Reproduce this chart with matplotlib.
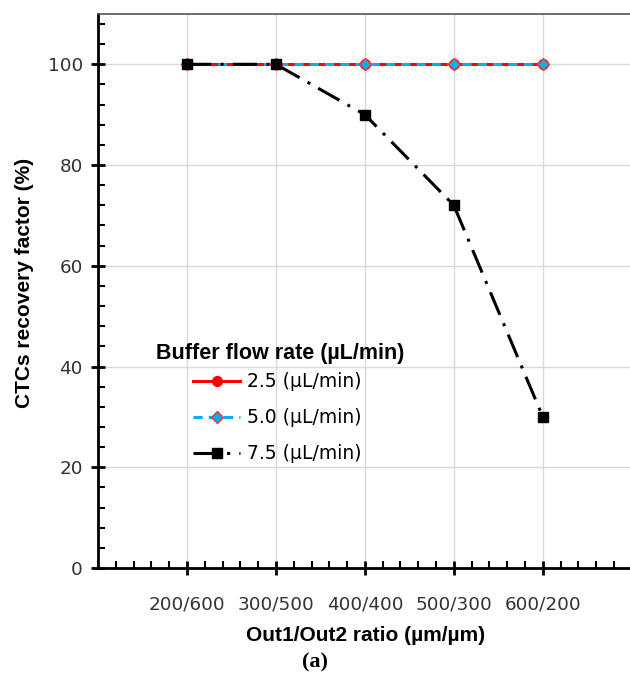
import matplotlib.pyplot as plt
from matplotlib.ticker import MultipleLocator

plt.rcParams['font.family'] = ['DejaVu Sans']

# data
ratios = ['200/600', '300/500', '400/400', '500/300', '600/200']
flow_25 = [100, 100, 100, 100, 100]
flow_50 = [100, 100, 100, 100, 100]
flow_75 = [100, 100, 90, 72, 30]
legend_labels = ['2.5 (\u00b5L/min)', '5.0 (\u00b5L/min)', '7.5 (\u00b5L/min)']

xpos = list(range(1, len(ratios) + 1))

fig = plt.figure(figsize=(6.3, 6.81), dpi=100)
ax = fig.add_axes([0.1556, 0.166, 0.85, 0.8135])

ax.plot(xpos, flow_25, color='#ff0000', lw=2.2, marker='o', ms=7,
        label=legend_labels[0], zorder=3)
ax.plot(xpos, flow_50, color='#00b0f0', lw=2.2, ls=(0, (3, 2)), marker='D', ms=6,
        mec='#ff3030', mew=1.0, label=legend_labels[1], zorder=4)
ax.plot(xpos, flow_75, color='black', lw=2.2, ls=(0, (8, 3, 1, 3)), marker='s', ms=7,
        label=legend_labels[2], zorder=5)

ax.set_xlim(0, 6.02)
ax.set_ylim(0, 110)
ax.set_xticks(xpos)
ax.set_xticklabels(ratios)
ax.xaxis.set_minor_locator(MultipleLocator(0.2))
ax.yaxis.set_major_locator(MultipleLocator(20))
ax.yaxis.set_minor_locator(MultipleLocator(4))

ax.grid(True, which='major', color='#d9d9d9', lw=1.0)
ax.set_axisbelow(True)

ax.spines['right'].set_visible(False)
ax.spines['top'].set_color('#555555')
ax.spines['top'].set_linewidth(1.2)
ax.spines['left'].set_linewidth(2.0)
ax.spines['bottom'].set_linewidth(2.0)

ax.tick_params(which='major', direction='inout', length=10, width=2.0,
               labelsize=13.2, labelcolor='#333333', pad=6)
ax.tick_params(which='minor', direction='in', length=5, width=1.5)
ax.tick_params(axis='x', which='major', pad=15)

ax.set_xlabel('Out1/Out2 ratio (\u00b5m/\u00b5m)', fontsize=15, fontweight='bold',
              labelpad=9, family='Liberation Sans')
ax.set_ylabel('CTCs recovery factor (%)', fontsize=15, fontweight='bold',
              family='Liberation Sans')
ax.yaxis.set_label_coords(-0.12, 0.515)

leg = ax.legend(loc='center left', bbox_to_anchor=(0.146, 0.271), frameon=False,
                fontsize=13.5, handlelength=2.5, handletextpad=0.37,
                labelspacing=0.9)
ax.text(0.34, 0.388, 'Buffer flow rate (\u00b5L/min)', transform=ax.transAxes,
        ha='center', va='center', fontsize=15.5, fontweight='bold',
        family='Liberation Sans')

fig.text(0.5, 0.013, '(a)', ha='center', va='bottom', fontsize=16, fontweight='bold',
         family='Liberation Serif')

fig.savefig('out.png', dpi=100)
